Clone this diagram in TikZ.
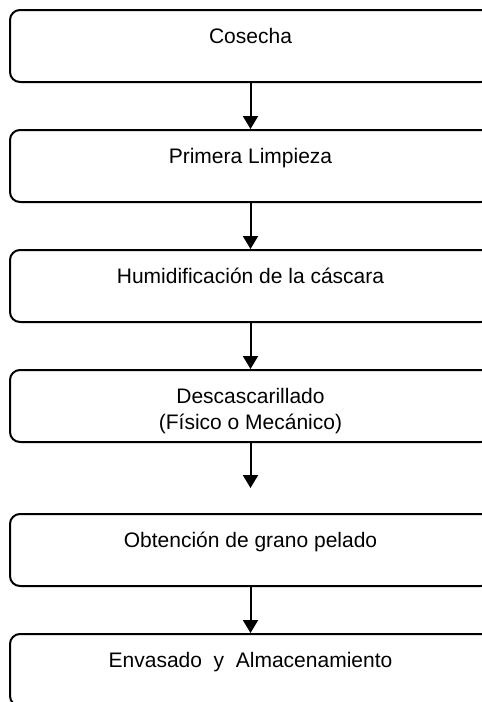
\documentclass[tikz,border=0pt]{standalone}
\usepackage{fontspec}
\setmainfont{Liberation Sans}
\usetikzlibrary{arrows.meta,positioning}

\begin{document}
\begin{tikzpicture}[->,>={Triangle[length=6.5pt,width=7.5pt]},x=0.5pt,y=-0.5pt,
                    node distance=60pt,line width=1pt]

  \tikzstyle{every node}=[font=\fontsize{10.5}{12.75}\selectfont]
  \tikzstyle{paso}=[rectangle,draw,rounded corners=5pt,align=center,
                    minimum width=240.5pt,minimum height=36pt,inner ysep=0pt,
                    text height=16.5pt,text depth=19.5pt]

  \path[use as bounding box,clip] (0,0) rectangle (482,702);

  \node[paso] (CO) at (250.5,46)      {Cosecha};
  \node[paso] (PL) [below of=CO]      {Primera Limpieza};
  \node[paso] (HC) [below of=PL]      {Humidificación de la cáscara};
  \node[paso,text height=29.5pt,text depth=6.5pt] (DE) [below of=HC]
                                      {Descascarillado\\(Físico o Mecánico)};
  \node[paso] (OG) [below of=DE,node distance=72pt] {Obtención de grano pelado};
  \node[paso] (EA) [below of=OG]      {Envasado\ \ y\ \ Almacenamiento};

  \path (CO) edge node {} (PL)
        (PL) edge node {} (HC)
        (HC) edge node {} (DE)
        (DE) edge [shorten >=12.5pt] node {} (OG)
        (OG) edge node {} (EA);
\end{tikzpicture}
\end{document}
